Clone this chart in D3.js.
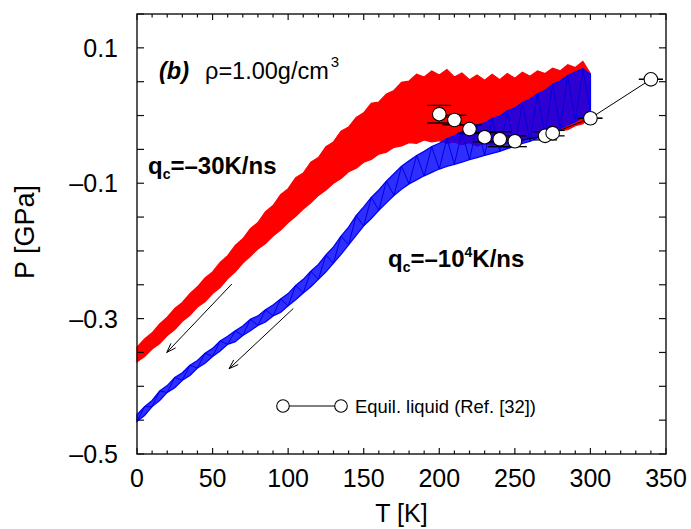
<!DOCTYPE html>
<html><head><meta charset="utf-8">
<script src="https://cdn.jsdelivr.net/npm/d3@7"></script>
<style>body{margin:0;background:#fff} svg{display:block} text{font-family:"Liberation Sans",Arial,sans-serif;fill:#000}</style>
</head><body><svg id="c" width="691" height="529"></svg>
<script>
// ---- data ----
const temps = [0,5,10,15,20,25,30,35,40,45,50,55,60,65,70,75,80,85,90,95,100,105,110,115,120,125,130,135,140,145,150,155,160,165,170,175,180,185,190,195,200,205,210,215,220,225,230,235,240,245,250,255,260,265,270,275,280,285,290,295,300];
// q_c = -30 K/ns  (red band: lower / upper envelope, GPa)
const redLow = [-0.364,-0.356,-0.345,-0.337,-0.325,-0.316,-0.304,-0.295,-0.283,-0.275,-0.263,-0.254,-0.241,-0.231,-0.218,-0.208,-0.197,-0.189,-0.178,-0.169,-0.158,-0.149,-0.138,-0.129,-0.118,-0.110,-0.100,-0.093,-0.083,-0.078,-0.069,-0.065,-0.057,-0.054,-0.047,-0.045,-0.040,-0.041,-0.036,-0.039,-0.037,-0.041,-0.039,-0.043,-0.040,-0.045,-0.041,-0.044,-0.040,-0.042,-0.038,-0.038,-0.033,-0.033,-0.029,-0.027,-0.022,-0.021,-0.015,-0.012,-0.002];
const redHigh = [-0.342,-0.330,-0.321,-0.308,-0.298,-0.285,-0.276,-0.263,-0.253,-0.240,-0.231,-0.217,-0.207,-0.192,-0.182,-0.167,-0.158,-0.142,-0.133,-0.117,-0.108,-0.092,-0.085,-0.069,-0.062,-0.046,-0.039,-0.023,-0.017,-0.003,0.004,0.018,0.020,0.032,0.037,0.049,0.051,0.061,0.057,0.066,0.060,0.068,0.057,0.063,0.053,0.060,0.052,0.061,0.053,0.062,0.055,0.064,0.058,0.066,0.062,0.070,0.066,0.075,0.071,0.080,0.062];
// q_c = -10^4 K/ns  (blue band: lower / upper envelope, GPa)
const blueLow = [-0.452,-0.443,-0.430,-0.421,-0.409,-0.402,-0.391,-0.384,-0.373,-0.366,-0.356,-0.348,-0.338,-0.334,-0.325,-0.318,-0.310,-0.305,-0.296,-0.291,-0.281,-0.272,-0.262,-0.253,-0.242,-0.231,-0.218,-0.205,-0.191,-0.177,-0.163,-0.152,-0.140,-0.129,-0.118,-0.109,-0.101,-0.095,-0.089,-0.084,-0.079,-0.075,-0.072,-0.069,-0.065,-0.062,-0.059,-0.056,-0.053,-0.049,-0.045,-0.041,-0.038,-0.033,-0.028,-0.024,-0.019,-0.014,-0.009,-0.002,0.007];
const blueHigh = [-0.442,-0.430,-0.421,-0.407,-0.399,-0.387,-0.380,-0.369,-0.362,-0.351,-0.344,-0.333,-0.326,-0.318,-0.311,-0.301,-0.296,-0.287,-0.280,-0.271,-0.263,-0.251,-0.242,-0.230,-0.220,-0.206,-0.194,-0.178,-0.165,-0.148,-0.135,-0.121,-0.110,-0.097,-0.086,-0.075,-0.067,-0.059,-0.053,-0.046,-0.041,-0.034,-0.030,-0.024,-0.021,-0.014,-0.011,-0.004,-0.001,0.007,0.011,0.019,0.024,0.032,0.037,0.046,0.051,0.059,0.064,0.069,0.061];
// Equilibrium liquid (Ref. [32])
const eqT = [200,210,220,230,240,250,270,275,300,340];
const eqP = [0.002,-0.0066,-0.020,-0.032,-0.035,-0.038,-0.030,-0.026,-0.004,0.0535];
const eqErr = [0.013,0.007,0.006,0.007,0.011,0.008,0.006,0.004,0.0,0.0];
// axes
const xTickVals = [0,50,100,150,200,250,300,350];
const xMinorVals = [10,20,30,40,60,70,80,90,110,120,130,140,160,170,180,190,210,220,230,240,260,270,280,290,310,320,330,340];
const yTickVals = [0.1,-0.1,-0.3,-0.5];
const yMinorVals = [0.15,0.05,0,-0.05,-0.15,-0.2,-0.25,-0.35,-0.4,-0.45];
// arrows [T0,P0,T1,P1]
const arrows = [[62.7,-0.249,19.7,-0.350],[103.4,-0.285,60.9,-0.374]];

// ---- drawing ----
const svg = d3.select('#c');
const L=137, R=666, Tp=14, B=454;
const x = d3.scaleLinear().domain([0,350]).range([L,R]);
const y = d3.scaleLinear().domain([-0.5,0.15]).range([B,Tp]);

const redData = temps.map((t,i)=>({t, lo:redLow[i], hi:redHigh[i]}));
const blueData = temps.map((t,i)=>({t, lo:blueLow[i], hi:blueHigh[i]}));
const area = d3.area().x(d=>x(d.t)).y0(d=>y(d.lo)).y1(d=>y(d.hi)).curve(d3.curveLinear);

const plot = svg.append('g');
plot.append('path').datum(redData).attr('d',area).attr('fill','#ff0000').attr('stroke','#ff0000').attr('stroke-width',1.2);
const zig = (data)=>{const pts=[];data.forEach((d,i)=>{pts.push([x(d.t), y(i%2?d.hi:d.lo)]);});return d3.line()(pts);};
plot.append('path').datum(blueData).attr('d',area).attr('fill','#0000ff').attr('fill-opacity',0.82).attr('stroke','#0000ff').attr('stroke-width',1.3);
plot.append('path').attr('d',zig(blueData)).attr('fill','none').attr('stroke','#0000e0').attr('stroke-width',1);

// equilibrium liquid
const eq = eqT.map((t,i)=>({t,p:eqP[i],e:eqErr[i]}));
plot.append('path').datum(eq).attr('d',d3.line().x(d=>x(d.t)).y(d=>y(d.p))).attr('fill','none').attr('stroke','#000').attr('stroke-width',1);
const eb = plot.selectAll('g.eb').data(eq).enter().append('g');
eb.append('line').attr('x1',d=>x(d.t)).attr('x2',d=>x(d.t)).attr('y1',d=>y(d.p-d.e)).attr('y2',d=>y(d.p+d.e)).attr('stroke','#000');
eb.append('line').attr('x1',d=>x(d.t)-12).attr('x2',d=>x(d.t)+12).attr('y1',d=>y(d.p+d.e)).attr('y2',d=>y(d.p+d.e)).attr('stroke','#000').attr('stroke-width',1.3);
eb.append('line').attr('x1',d=>x(d.t)-12).attr('x2',d=>x(d.t)+12).attr('y1',d=>y(d.p-d.e)).attr('y2',d=>y(d.p-d.e)).attr('stroke','#000').attr('stroke-width',1.3);
plot.selectAll('circle.eq').data(eq).enter().append('circle').attr('cx',d=>x(d.t)).attr('cy',d=>y(d.p)).attr('r',6.8).attr('fill','#fff').attr('stroke','#000').attr('stroke-width',1.1);

// arrows
arrows.forEach(a=>{
  const x0=x(a[0]),y0=y(a[1]),x1=x(a[2]),y1=y(a[3]);
  plot.append('line').attr('x1',x0).attr('y1',y0).attr('x2',x1).attr('y2',y1).attr('stroke','#000').attr('stroke-width',1);
  const ang=Math.atan2(y0-y1,x0-x1), len=10, w=0.33;
  [ang+w,ang-w].forEach(g=>plot.append('line').attr('x1',x1).attr('y1',y1).attr('x2',x1+len*Math.cos(g)).attr('y2',y1+len*Math.sin(g)).attr('stroke','#000').attr('stroke-width',1));
});

// frame
svg.append('rect').attr('x',L).attr('y',Tp).attr('width',R-L).attr('height',B-Tp).attr('fill','none').attr('stroke','#111').attr('stroke-width',1.4);

// ticks
const tk = svg.append('g').attr('stroke','#111').attr('stroke-width',1.2);
xTickVals.forEach(v=>{tk.append('line').attr('x1',x(v)).attr('x2',x(v)).attr('y1',B).attr('y2',B-6);tk.append('line').attr('x1',x(v)).attr('x2',x(v)).attr('y1',Tp).attr('y2',Tp+6);});
xMinorVals.forEach(v=>{tk.append('line').attr('x1',x(v)).attr('x2',x(v)).attr('y1',B).attr('y2',B-3.5);tk.append('line').attr('x1',x(v)).attr('x2',x(v)).attr('y1',Tp).attr('y2',Tp+3.5);});
yTickVals.concat(yMinorVals).forEach(v=>{tk.append('line').attr('x1',L).attr('x2',L+7).attr('y1',y(v)).attr('y2',y(v));tk.append('line').attr('x1',R).attr('x2',R-7).attr('y1',y(v)).attr('y2',y(v));});

const fmt = v=> (v<0?'\u2013':'')+Math.abs(v).toString();
svg.selectAll('text.xt').data(xTickVals).enter().append('text').attr('x',d=>x(d)).attr('y',B+33).attr('text-anchor','middle').attr('font-size',25).text(d=>d);
svg.selectAll('text.yt').data(yTickVals).enter().append('text').attr('x',L-19).attr('y',d=>y(d)+9).attr('text-anchor','end').attr('font-size',25).text(d=>fmt(d));

// axis titles
svg.append('text').attr('x',(L+R)/2).attr('y',522).attr('text-anchor','middle').attr('font-size',25).text('T [K]');
svg.append('text').attr('transform','translate(34,232) rotate(-90)').attr('text-anchor','middle').attr('font-size',27).text('P [GPa]');

// annotations
const t1 = svg.append('text').attr('x',159).attr('y',79).attr('font-size',23.5);
t1.append('tspan').attr('font-weight','bold').attr('font-style','italic').text('(b)');
t1.append('tspan').attr('dx',16).text('\u03c1=1.00g/cm');
t1.append('tspan').attr('font-size',15).attr('dx',2).attr('dy',-12).text('3');

const q1 = svg.append('text').attr('x',148).attr('y',174).attr('font-size',24).attr('font-weight','bold');
q1.append('tspan').text('q');
q1.append('tspan').attr('font-size',14).attr('dy',5).text('c');
q1.append('tspan').attr('dy',-5).text('=\u201330K/ns');

const q2 = svg.append('text').attr('x',388).attr('y',267).attr('font-size',24).attr('font-weight','bold');
q2.append('tspan').text('q');
q2.append('tspan').attr('font-size',14).attr('dy',5).text('c');
q2.append('tspan').attr('dy',-5).text('=\u201310');
q2.append('tspan').attr('font-size',14).attr('dy',-10).text('4');
q2.append('tspan').attr('dy',10).text('K/ns');

// legend
const lg = svg.append('g');
lg.append('line').attr('x1',283).attr('x2',341).attr('y1',406).attr('y2',406).attr('stroke','#000').attr('stroke-width',1);
[283,341].forEach(cx=>lg.append('circle').attr('cx',cx).attr('cy',406).attr('r',6.3).attr('fill','#fff').attr('stroke','#000').attr('stroke-width',1.1));
lg.append('text').attr('x',355).attr('y',413).attr('font-size',18.4).text('Equil. liquid (Ref. [32])');
</script></body></html>
